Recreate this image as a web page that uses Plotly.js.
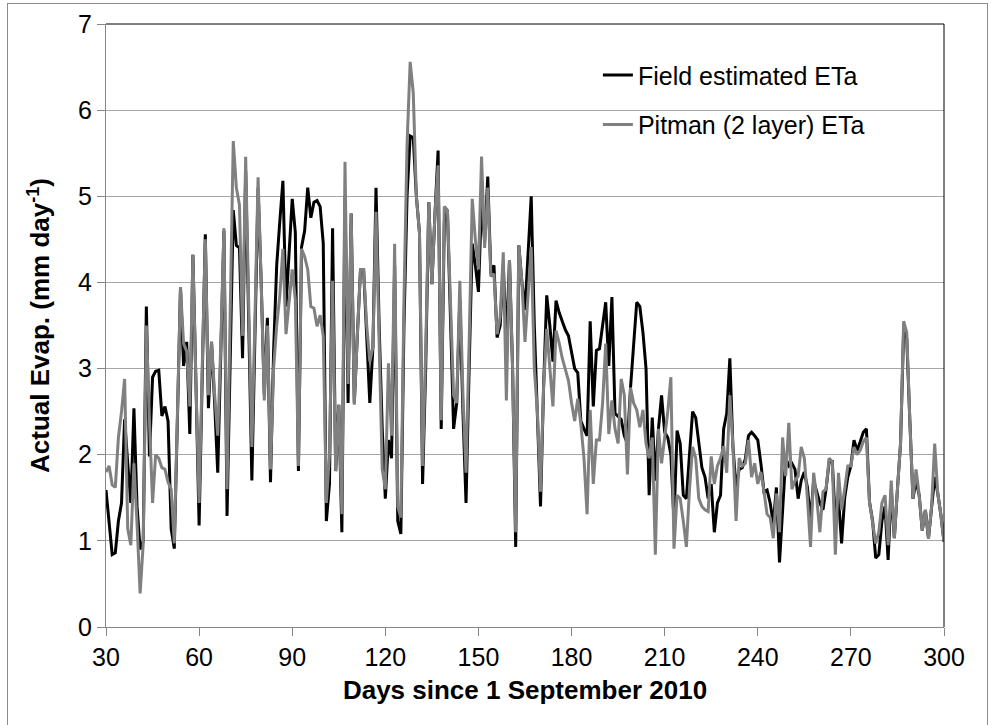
<!DOCTYPE html>
<html>
<head>
<meta charset="utf-8">
<script src="https://cdn.plot.ly/plotly-3.0.1.min.js"></script>
<style>
  html, body { margin: 0; padding: 0; background: #fff; overflow: hidden; }
  #wrap { position: relative; width: 991px; height: 725px; }
  #chart { position: absolute; left: 0; top: 0; width: 991px; height: 725px; }
  #frame { position: absolute; left: 7px; top: 3px; width: 979px; height: 740px; border: 1px solid #8c8c8c; pointer-events: none; }
</style>
</head>
<body>
<div id="wrap"><div id="chart"></div><div id="frame"></div></div>
<script>
// Days since 1 September 2010 (day 30 .. 300)
const startDay = 30;
const endDay = 300;

// Field estimated ETa (mm/day), one value per day from day 30
const fieldETa = [
  1.59, 1.2, 0.84, 0.86, 1.23, 1.44, 2.41, 1.9, 1.44, 2.54,
  1.4, 0.9, 1.0, 3.72, 1.98, 2.9, 2.97, 2.98, 2.45, 2.56,
  2.39, 1.14, 0.91, 2.4, 3.94, 3.03, 3.31, 2.24, 4.32, 2.8,
  1.18, 2.9, 4.56, 2.54, 3.31, 2.6, 1.79, 3.2, 4.6, 1.29,
  3.0, 4.84, 4.43, 4.4, 3.12, 5.3, 3.5, 1.7, 3.4, 5.1,
  4.0, 2.7, 3.59, 1.68, 3.2, 4.2, 4.71, 5.18, 3.72, 4.3,
  4.97, 4.58, 1.81, 4.41, 4.6, 5.1, 4.75, 4.93, 4.95, 4.88,
  4.45, 1.23, 1.66, 4.63, 1.81, 2.58, 1.1, 5.0, 2.6, 4.8,
  2.6, 3.4, 4.15, 4.15, 3.4, 2.6, 3.25, 5.1, 3.5, 2.3,
  1.49, 2.17, 1.96, 4.2, 1.23, 1.08, 3.5, 5.0, 5.7, 5.68,
  5.0, 4.58, 1.66, 3.0, 4.93, 3.98, 4.8, 5.53, 2.3, 4.7,
  4.84, 3.5, 2.3, 2.6, 3.8, 2.5, 1.44, 3.0, 4.45, 4.2,
  3.89, 4.93, 4.48, 5.23, 4.1, 4.2, 3.36, 3.5, 4.2, 3.3,
  4.26, 3.0, 0.93, 4.43, 4.0, 3.68, 4.3, 5.0, 3.5, 2.5,
  1.4, 2.8, 3.85, 3.5, 3.08, 3.79, 3.65, 3.55, 3.45, 3.38,
  3.2, 3.0, 2.95, 2.39, 2.3, 2.22, 3.55, 2.56, 3.21, 3.23,
  3.5, 3.77, 3.03, 3.83, 2.48, 2.45, 2.41, 2.22, 2.13, 2.78,
  3.3, 3.77, 3.72, 3.42, 3.0, 1.53, 2.43, 1.7, 2.3, 2.69,
  2.26, 2.2, 2.0, 1.23, 2.28, 2.13, 1.53, 1.49, 2.0, 2.5,
  2.43, 2.1, 1.85, 1.74, 1.49, 1.66, 1.1, 1.44, 1.53, 2.3,
  2.48, 3.12, 2.09, 1.62, 1.83, 1.85, 1.95, 2.22, 2.26, 2.22,
  2.17, 1.9, 1.57, 1.59, 1.44, 1.2, 1.62, 0.75, 1.4, 1.96,
  1.87, 1.9, 1.83, 1.49, 1.7, 1.8, 1.62, 1.23, 1.7, 1.57,
  1.44, 1.36, 1.6, 1.92, 1.92, 1.23, 1.5, 0.97, 1.5, 1.74,
  1.87, 2.17, 2.05, 2.15, 2.26, 2.3, 1.45, 1.23, 0.8, 0.84,
  1.23, 1.4, 0.78, 1.6, 1.03, 1.6, 2.13, 3.45, 3.35, 2.39,
  1.49, 1.7, 1.53, 1.12, 1.36, 1.03, 1.4, 1.74, 1.55, 1.3,
  0.99
];

// Pitman (2 layer) ETa (mm/day), one value per day from day 30
const pitmanETa = [
  1.8, 1.87, 1.65, 1.62, 2.2, 2.5, 2.88, 1.14, 0.95, 1.9,
  1.2, 0.39, 0.97, 3.5, 2.4, 1.44, 2.0, 1.96, 1.85, 1.83,
  1.68, 1.6, 0.97, 2.4, 3.94, 3.29, 3.2, 2.56, 4.32, 2.8,
  1.44, 3.0, 4.5, 2.69, 3.31, 2.7, 2.22, 3.3, 4.63, 1.6,
  3.5, 5.64, 5.1, 4.9, 3.38, 5.46, 3.7, 2.09, 3.6, 5.22,
  4.0, 2.63, 3.5, 1.83, 3.0, 3.5, 3.85, 4.39, 3.4, 3.8,
  4.15, 3.8, 1.87, 4.39, 4.3, 4.15, 3.72, 3.7, 3.49, 3.62,
  3.38, 1.44, 2.0, 4.02, 1.81, 2.58, 1.31, 5.4, 2.82, 4.8,
  2.58, 3.4, 4.15, 4.15, 3.5, 3.08, 3.25, 4.82, 3.2, 1.83,
  1.6, 3.06, 2.22, 4.45, 1.4, 1.27, 3.8, 5.6, 6.56, 6.2,
  5.0, 4.58, 1.87, 3.2, 4.93, 3.98, 4.8, 5.36, 2.4, 4.88,
  4.84, 3.8, 2.69, 2.6, 4.02, 2.7, 1.79, 3.3, 4.97, 4.5,
  4.15, 5.46, 4.4, 5.1, 4.07, 4.1, 3.4, 3.6, 4.35, 2.63,
  4.26, 3.0, 1.1, 4.43, 4.0, 3.31, 3.9, 4.41, 3.0, 2.5,
  1.57, 2.8, 3.46, 3.0, 2.56, 3.44, 3.3, 3.12, 3.0, 2.86,
  2.6, 2.39, 2.65, 2.35, 1.96, 1.31, 2.52, 1.66, 2.17, 2.17,
  2.6, 3.29, 2.24, 2.63, 2.3, 2.13, 2.88, 2.69, 1.77, 2.78,
  2.6, 2.52, 2.32, 2.52, 2.13, 1.96, 2.2, 0.84, 2.3, 1.9,
  2.2, 2.5, 2.9, 0.91, 1.53, 1.49, 1.23, 0.93, 1.6, 2.09,
  1.96, 1.49, 1.4, 1.36, 1.34, 1.98, 1.66, 1.87, 1.96, 2.1,
  1.79, 2.69, 2.1, 1.23, 1.96, 1.87, 1.9, 2.17, 1.74, 1.9,
  1.66, 1.8, 1.57, 1.31, 1.27, 1.03, 1.55, 1.1, 2.2, 1.75,
  2.37, 1.6, 1.7, 1.75, 2.09, 1.96, 1.49, 0.93, 1.79, 1.49,
  1.1, 1.57, 1.6, 1.96, 1.92, 0.84, 1.79, 1.36, 1.6, 1.87,
  1.87, 2.09, 2.0, 2.05, 2.15, 2.2, 1.45, 1.23, 0.97, 1.1,
  1.44, 1.53, 0.95, 1.7, 1.03, 1.6, 2.13, 3.55, 3.42, 2.39,
  1.49, 1.83, 1.53, 1.12, 1.36, 1.03, 1.4, 2.13, 1.55, 1.3,
  0.99
];

const xTicks = [30, 60, 90, 120, 150, 180, 210, 240, 270, 300];
const yTicks = [0, 1, 2, 3, 4, 5, 6, 7];
const seriesNames = ["Field estimated ETa", "Pitman (2 layer) ETa"];

const days = [];
for (let d = startDay; d <= endDay; d++) days.push(d);

const FONT = "Liberation Sans, Arial, sans-serif";

const traces = [
  { x: days, y: fieldETa, type: "scatter", mode: "lines", name: seriesNames[0],
    legendgroup: "a", line: { color: "#000000", width: 3 } },
  { x: days, y: pitmanETa, type: "scatter", mode: "lines", name: seriesNames[1],
    legendgroup: "b", line: { color: "#808080", width: 3 } }
];

const layout = {
  width: 991, height: 725,
  margin: { l: 106, r: 47, t: 24, b: 98 },
  paper_bgcolor: "rgba(0,0,0,0)",
  plot_bgcolor: "#ffffff",
  font: { family: FONT, size: 25, color: "#000" },
  showlegend: true,
  legend: {
    x: 0.587, y: 0.953, xanchor: "left", yanchor: "top",
    bgcolor: "rgba(0,0,0,0)", borderwidth: 0,
    font: { family: FONT, size: 25, color: "#000" },
    traceorder: "grouped", tracegroupgap: 14, itemwidth: 30
  },
  xaxis: {
    range: [startDay, endDay], tickvals: xTicks, ticktext: xTicks.map(String),
    showgrid: false, zeroline: false,
    showline: true, linecolor: "#868686", linewidth: 1,
    ticks: "outside", ticklen: 8, tickcolor: "#868686", tickwidth: 1,
    tickfont: { family: FONT, size: 25, color: "#000" },
    title: { text: "<b>Days since 1 September 2010</b>", font: { family: FONT, size: 26, color: "#000" }, standoff: 10 },
    automargin: false, fixedrange: true
  },
  yaxis: {
    range: [0, 7], tickvals: yTicks, ticktext: yTicks.map(String),
    showgrid: true, gridcolor: "#a6a6a6", gridwidth: 1, zeroline: false,
    showline: true, linecolor: "#868686", linewidth: 1,
    ticks: "outside", ticklen: 8, tickcolor: "#868686", tickwidth: 1,
    tickfont: { family: FONT, size: 25, color: "#000" },
    title: { text: "<b>Actual Evap. (mm day<sup>-1</sup>)</b>", font: { family: FONT, size: 26, color: "#000" }, standoff: 20 },
    automargin: false, fixedrange: true
  },
  shapes: [
    { type: "line", xref: "paper", yref: "paper", x0: 0, x1: 1, y0: 1, y1: 1, line: { color: "#000", width: 1 } },
    { type: "line", xref: "paper", yref: "paper", x0: 1, x1: 1, y0: 0, y1: 1, line: { color: "#000", width: 1 } }
  ]
};

Plotly.newPlot("chart", traces, layout, { staticPlot: true, displayModeBar: false });
</script>
</body>
</html>
